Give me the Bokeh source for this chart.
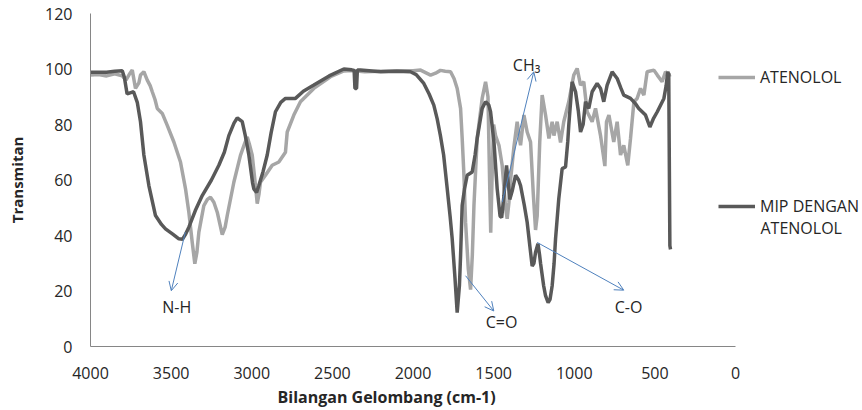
from bokeh.plotting import figure
from bokeh.models import Range1d, FixedTicker, Legend, LegendItem, Label, Arrow, OpenHead, Title
from bokeh.embed import file_html
from bokeh.resources import INLINE

# ---------------- data ----------------
x_ticks = [4000, 3500, 3000, 2500, 2000, 1500, 1000, 500, 0]
y_ticks = [0, 20, 40, 60, 80, 100, 120]

wn_atenolol = [4000, 3950, 3900, 3850, 3803, 3780, 3760, 3741, 3721, 3700, 3690, 3669, 3648, 3630,
               3617, 3600, 3586, 3555, 3524, 3483, 3442, 3411, 3390, 3369, 3353, 3340, 3328, 3297,
               3275, 3256, 3235, 3214, 3183, 3165, 3152, 3111, 3070, 3045, 3028, 3015, 2997, 2977,
               2966, 2955, 2946, 2915, 2873, 2832, 2791, 2780, 2739, 2698, 2615, 2512, 2429, 2380,
               2300, 2200, 2100, 2000, 1953, 1891, 1860, 1830, 1800, 1767, 1745, 1726, 1705, 1695,
               1685, 1674, 1657, 1643, 1632, 1622, 1602, 1571, 1550, 1535, 1525, 1518, 1510, 1500,
               1488, 1467, 1447, 1426, 1416, 1405, 1395, 1374, 1354, 1340, 1333, 1312, 1292, 1271,
               1254, 1240, 1230, 1214, 1199, 1178, 1157, 1137, 1126, 1106, 1085, 1065, 1034, 1003,
               982, 961, 941, 920, 889, 868, 837, 810, 800, 785, 755, 734, 713, 693, 668, 651, 630,
               610, 589, 568, 548, 506, 485, 455, 434, 413, 400]
t_atenolol = [97.8, 98, 97.5, 98.3, 97.5, 96, 98, 99.6, 93, 95, 97.8, 99, 96, 94,
              91.8, 89, 85.8, 84, 79.7, 73.7, 66.5, 56.9, 48.4, 37.5, 29.8, 34, 41.2, 50.8,
              53, 53.8, 52, 48.4, 40.3, 43, 47.2, 59.2, 68.9, 73, 75.5, 73, 68.9, 58,
              51.5, 55, 59.2, 61.7, 65.3, 66.5, 70, 77.3, 83.4, 88.2, 93, 97.2, 99.3, 99.5,
              99, 99.2, 99.4, 99.4, 99.6, 97.8, 98.5, 99.5, 99.2, 99, 96.5, 93, 85.8, 75,
              62.9, 44.8, 27.9, 20.5, 33, 50.8, 75, 89.4, 95.4, 90, 60, 41, 60, 80,
              76, 72.5, 65.3, 50, 46, 52, 60, 72, 81, 75, 72.5, 83.4, 77.3, 73.7,
              55, 42, 47, 73.7, 90.6, 83.4, 75, 81, 76, 81, 73.5, 81, 88.2, 97.8,
              100.2, 94.2, 95.4, 84.6, 81, 85.8, 76, 65, 81, 83.4, 73.7, 81, 69, 72.5, 65.3, 75, 88.2,
              89.4, 93, 90.6, 99, 99.6, 97.8, 95.4, 99, 97.8, 98]

wn_mip = [4000, 3900, 3850, 3803, 3790, 3773, 3750, 3733, 3710, 3690, 3669, 3638, 3597, 3560,
          3535, 3490, 3452, 3430, 3410, 3390, 3350, 3307, 3250, 3204, 3170, 3142, 3110, 3090,
          3059, 3040, 3018, 2995, 2987, 2970, 2956, 2930, 2904, 2880, 2853, 2820, 2791, 2729,
          2680, 2615, 2520, 2429, 2380, 2365, 2360, 2350, 2345, 2326, 2200, 2100, 2016, 1980,
          1933, 1900, 1871, 1850, 1830, 1810, 1788, 1770, 1757, 1740, 1726, 1712, 1705, 1695,
          1680, 1664, 1633, 1615, 1602, 1571, 1550, 1530, 1519, 1498, 1478, 1460, 1450, 1436,
          1420, 1408, 1400, 1385, 1364, 1345, 1333, 1310, 1292, 1275, 1261, 1250, 1240, 1225,
          1215, 1209, 1190, 1178, 1162, 1150, 1137, 1125, 1116, 1096, 1075, 1054, 1040, 1034,
          1013, 992, 975, 961, 945, 930, 910, 889, 858, 837, 817, 796, 765, 734, 710, 693,
          651, 620, 600, 558, 531, 510, 485, 444, 430, 420, 414, 407, 403]
t_mip = [98.8, 98.8, 99.2, 99.4, 97, 91, 91.5, 91.8, 88, 81, 69, 58, 47.2, 44,
         42.4, 40.5, 38.8, 38.6, 40.5, 43, 49, 54.4, 60, 65.3, 70, 76, 80.5, 82.4,
         81, 76, 69, 59, 56.8, 55.5, 58, 63, 69, 77, 84.6, 88, 89.4, 89.4,
         92, 94.2, 97.5, 100, 99.7, 99.5, 93, 93, 99.6, 99.6, 99, 99.2, 99, 98,
         94.8, 91, 87, 82, 76, 69, 57, 47, 38.9, 25, 12.2, 22, 32.7, 50.8,
         57, 61.7, 62.9, 69, 75, 85.8, 88.2, 87, 84.6, 73.7, 56.9, 47, 46.5, 54.4,
         65.3, 58, 53, 56, 61.7, 60, 58, 51, 44.8, 36, 29, 30, 34, 37,
         33, 30, 22, 18.3, 15.8, 17, 21.9, 30, 38.8, 53.2, 64.1, 64.7, 74, 79.7,
         95.4, 91.8, 85, 77.3, 80, 88.2, 85.8, 91.8, 94.8, 93, 88.2, 94.2, 99, 96.6, 93, 90.6,
         89.4, 87.5, 85.8, 83.4, 79.1, 82, 84.6, 89.4, 94, 99, 98, 36.3, 35]

# annotations: (label, text position, arrow tail, arrow head)
ann_labels = ["N-H", "C=O", "CH\u2083", "C-O"]
ann_text_x = [3465, 1451, 1296, 663]
ann_text_y = [14.3, 8.9, 101.4, 14.3]
ann_tail_x = [3412, 1674, 1447, 1230]
ann_tail_y = [41.2, 25.5, 52.0, 37.5]
ann_head_x = [3499, 1499, 1251, 693]
ann_head_y = [20.1, 12.8, 99.0, 20.3]

series_names = ["ATENOLOL", "MIP DENGAN", "ATENOLOL"]

# ---------------- layout / style ----------------
FONT = "Open Sans"
LIGHT = "#A6A6A6"
DARK = "#595959"
ARROW = "#4F81BD"
TXT = "#262626"

W, H = 862, 410
FRAME_L, AXIS_END = 90, 735           # frame left edge, pixel where wavenumber 0 sits
# extend the frame to the right edge so the legend area lies inside it
x_min_view = x_ticks[-1] - (x_ticks[0] - x_ticks[-1]) * (W - AXIS_END) / (AXIS_END - FRAME_L)

p = figure(width=W, height=H, x_range=Range1d(x_ticks[0], x_min_view), y_range=Range1d(0, 120),
           output_backend="svg", toolbar_location=None,
           min_border_left=FRAME_L, min_border_right=0, min_border_top=13, min_border_bottom=64)
p.outline_line_color = None
p.xgrid.visible = False
p.ygrid.visible = False

for ax in (p.xaxis[0], p.yaxis[0]):
    ax.axis_line_color = "#868686"
    ax.axis_line_width = 1
    ax.major_tick_line_color = None
    ax.minor_tick_line_color = None
    ax.major_tick_out = 0
    ax.major_tick_in = 0
    ax.major_label_text_font = FONT
    ax.major_label_text_font_size = "16px"
    ax.major_label_text_color = TXT
    ax.axis_label_text_font = FONT
    ax.axis_label_text_font_style = "bold"
    ax.axis_label_text_color = TXT

p.xaxis.ticker = FixedTicker(ticks=x_ticks)
p.yaxis.ticker = FixedTicker(ticks=y_ticks)
p.xaxis.bounds = (x_ticks[-1], x_ticks[0])
p.xaxis.major_label_standoff = 20
p.yaxis.major_label_standoff = 18
p.yaxis.axis_label = "Transmitan"
p.yaxis.axis_label_text_font_size = "15px"
p.yaxis.axis_label_standoff = 15

p.add_layout(Title(text="Bilangan Gelombang (cm-1)", align="left", offset=187,
                   text_font=FONT, text_font_size="16px", text_font_style="bold",
                   text_color=TXT, standoff=4), "below")

r1 = p.line(wn_atenolol, t_atenolol, line_color=LIGHT, line_width=3.5)
r2 = p.line(wn_mip, t_mip, line_color=DARK, line_width=3.5)

for lbl, tx, ty, x0, y0, x1, y1 in zip(ann_labels, ann_text_x, ann_text_y,
                                       ann_tail_x, ann_tail_y, ann_head_x, ann_head_y):
    p.add_layout(Arrow(x_start=x0, y_start=y0, x_end=x1, y_end=y1,
                       line_color=ARROW, line_width=1,
                       end=OpenHead(size=9, line_color=ARROW, line_width=1)))
    p.add_layout(Label(x=tx, y=ty, text=lbl, text_align="center", text_baseline="middle",
                       text_font=FONT, text_font_size="16px", text_color=TXT))


def make_legend(label, renderer, loc):
    return Legend(items=[LegendItem(label=label, renderers=[renderer])], location=loc,
                  glyph_width=37, glyph_height=20, label_height=20, label_standoff=5,
                  padding=0, margin=0, border_line_color=None, background_fill_alpha=0,
                  label_text_font=FONT, label_text_font_size="16px",
                  label_text_color=TXT)


p.add_layout(make_legend(series_names[0], r1, (628, 258)))
p.add_layout(make_legend(series_names[1], r2, (628, 129.5)))
p.add_layout(Label(x=-155, y=42.8, text=series_names[2], text_align="left",
                   text_baseline="middle", text_font=FONT, text_font_size="16px",
                   text_color=TXT))

open("out.html", "w").write(file_html(p, INLINE))
